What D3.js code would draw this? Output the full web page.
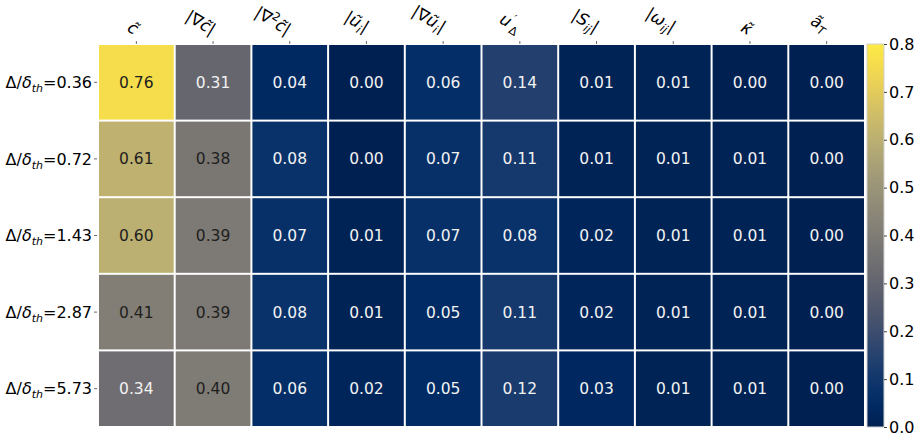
<!DOCTYPE html>
<html><head><meta charset="utf-8">
<script src="https://cdn.jsdelivr.net/npm/d3@7"></script>
<style>body{margin:0;background:#fff}text{font-family:"DejaVu Sans",sans-serif}</style>
</head><body><svg id="c" width="921" height="438"></svg>
<script>
const rowValues = ["0.36","0.72","1.43","2.87","5.73"];
const colKeys = ["c","gc","g2c","u","gu","ud","s","w","k","a"];
const values = [
  [0.76,0.31,0.04,0.00,0.06,0.14,0.01,0.01,0.00,0.00],
  [0.61,0.38,0.08,0.00,0.07,0.11,0.01,0.01,0.01,0.00],
  [0.60,0.39,0.07,0.01,0.07,0.08,0.02,0.01,0.01,0.00],
  [0.41,0.39,0.08,0.01,0.05,0.11,0.02,0.01,0.01,0.00],
  [0.34,0.40,0.06,0.02,0.05,0.12,0.03,0.01,0.01,0.00]
];
const cbTicks = [0,0.1,0.2,0.3,0.4,0.5,0.6,0.7,0.8];
const colLabels = {
  c:[["c\u0303","i"]],
  gc:[["|∇","n"],["c\u0303","i"],["|","n"]],
  g2c:[["|∇","n"],["2","sup"],["c\u0303","i"],["|","n"]],
  u:[["|","n"],["u\u0303","i"],["i","sub"],["|","n"]],
  gu:[["|∇","n"],["u\u0303","i"],["i","sub"],["|","n"]],
  ud:[["u","i"],["′","sup"],["Δ","sub"]],
  s:[["|","n"],["S","i"],["ij","sub"],["|","n"]],
  w:[["|","n"],["ω","i"],["ij","sub"],["|","n"]],
  k:[["κ\u0303","i"]],
  a:[["a\u0303","i"],["T","sub"]]
};

const svg = d3.select("#c");
const L=98, R=865, T=44, B=427;
const x = d3.scaleBand().domain(colKeys).range([L,R]);
const y = d3.scaleBand().domain(rowValues).range([T,B]);
const color = v => d3.interpolateCividis(v/0.8);

const cells = [];
values.forEach((row,i)=>row.forEach((v,j)=>cells.push({r:rowValues[i],c:colKeys[j],v})));
const g = svg.append("g");
g.selectAll("rect").data(cells).join("rect")
  .attr("x",d=>x(d.c)+1).attr("y",d=>y(d.r)+1)
  .attr("width",x.bandwidth()-2).attr("height",y.bandwidth()-2)
  .attr("fill",d=>color(d.v));
g.selectAll("text.v").data(cells).join("text").attr("class","v")
  .attr("x",d=>x(d.c)+x.bandwidth()/2).attr("y",d=>y(d.r)+y.bandwidth()/2)
  .attr("text-anchor","middle").attr("dy","0.36em").attr("font-size",15.5)
  .attr("fill",d=>d.v>0.37?"#1e1e1e":"#f2f2f2")
  .text(d=>d.v.toFixed(2));

svg.selectAll("line.tt").data(colKeys).join("line").attr("class","tt")
  .attr("x1",d=>x(d)+x.bandwidth()/2).attr("x2",d=>x(d)+x.bandwidth()/2)
  .attr("y1",T-3).attr("y2",T).attr("stroke","#444").attr("stroke-width",0.8);
colKeys.forEach(k=>{
  const cx = x(k)+x.bandwidth()/2;
  const outer = svg.append("g");
  const t = outer.append("text").attr("font-size",16.5).attr("transform","rotate(31)");
  let shift=0;
  colLabels[k].forEach(([s,st])=>{
    const sp = t.append("tspan").text(s);
    if(st==="i") sp.attr("font-style","italic");
    let target = st==="sub"?4:st==="sup"?-7:0;
    if(st==="sub"||st==="sup"){sp.attr("font-size",11.5).attr("font-style","italic");}
    if(s==="2"||s==="′"||s==="Δ") sp.attr("font-style","normal");
    sp.attr("dy",target-shift); shift=target;
  });
  const bb = outer.node().getBBox();
  outer.attr("transform",`translate(${cx+6-(bb.x+bb.width)},${T-5-(bb.y+bb.height)})`);
});
svg.selectAll("line.lt").data(rowValues).join("line").attr("class","lt")
  .attr("x1",L-4).attr("x2",L-1).attr("y1",d=>y(d)+y.bandwidth()/2).attr("y2",d=>y(d)+y.bandwidth()/2)
  .attr("stroke","#444").attr("stroke-width",0.8);
rowValues.forEach(r=>{
  const t = svg.append("text").attr("font-size",16).attr("text-anchor","end")
    .attr("x",L-6).attr("y",y(r)+y.bandwidth()/2).attr("dy","0.36em");
  t.append("tspan").text("Δ/");
  t.append("tspan").text("δ").attr("font-style","italic");
  t.append("tspan").text("th").attr("font-style","italic").attr("font-size",11).attr("dy",4);
  t.append("tspan").text("="+r).attr("dy",-4);
});

const cbX=867, cbW=17;
const cy = d3.scaleLinear().domain([0,0.8]).range([B,T]);
const defs = svg.append("defs");
const grad = defs.append("linearGradient").attr("id","cg").attr("x1",0).attr("x2",0).attr("y1",1).attr("y2",0);
d3.range(0,1.0001,0.05).forEach(p=>grad.append("stop").attr("offset",p).attr("stop-color",d3.interpolateCividis(p)));
svg.append("rect").attr("x",cbX).attr("y",T).attr("width",cbW).attr("height",B-T).attr("fill","url(#cg)")
  .attr("stroke","#d0d0d0").attr("stroke-width",1);
const ax = svg.append("g").attr("transform",`translate(${cbX+cbW},0)`)
  .call(d3.axisRight(cy).tickValues(cbTicks).tickFormat(d3.format(".1f")).tickSize(3).tickPadding(2));
ax.select(".domain").remove();
ax.selectAll("text").attr("font-size",16).attr("fill","#000").style("font-family","DejaVu Sans");
ax.selectAll("line").attr("stroke","#444");
</script></body></html>
